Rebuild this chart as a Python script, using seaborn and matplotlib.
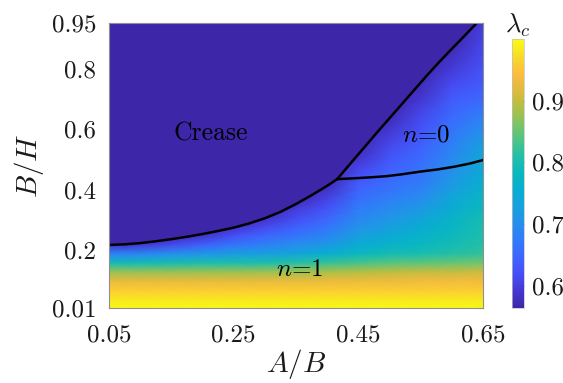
import numpy as np
import matplotlib
matplotlib.use("Agg")
import matplotlib.pyplot as plt
from matplotlib.colors import LinearSegmentedColormap
import seaborn as sns

# ---------------- data ----------------
x_grid = [0.05, 0.10, 0.15, 0.20, 0.25, 0.30, 0.35, 0.40, 0.45, 0.50, 0.55, 0.60, 0.65]
y_grid = [0.01, 0.04, 0.07, 0.10, 0.13, 0.16, 0.19, 0.22, 0.25, 0.28, 0.31, 0.34, 0.37,
          0.40, 0.43, 0.46, 0.50, 0.55, 0.60, 0.65, 0.70, 0.75, 0.80, 0.85, 0.90, 0.95]
LAM_MIN, LAM_MAX = 0.564, 1.0

# lambda_c columns (one list per x value, bottom to top); crease region = LAM_MIN
lam_x005 = [.995, .982, .958, .925, .875, .79, .68, .58] + [LAM_MIN] * 18
lam_x010 = [.995, .982, .958, .925, .875, .79, .685, .59] + [LAM_MIN] * 18
lam_x015 = [.995, .982, .958, .925, .875, .795, .70, .61] + [LAM_MIN] * 18
lam_x020 = [.995, .982, .958, .925, .876, .80, .71, .64, .585] + [LAM_MIN] * 17
lam_x025 = [.995, .982, .958, .925, .877, .80, .72, .665, .62, .58] + [LAM_MIN] * 16
lam_x030 = [.995, .982, .958, .925, .878, .80, .725, .68, .645, .61, .58] + [LAM_MIN] * 15
lam_x035 = [.995, .982, .958, .925, .88, .81, .735, .70, .665, .64, .615, .595, .57] + [LAM_MIN] * 13
lam_x040 = [.995, .982, .958, .927, .885, .82, .755, .715, .685, .665, .645, .625, .605,
            .585, .57] + [LAM_MIN] * 11
lam_x045 = [.995, .982, .958, .93, .89, .83, .78, .75, .725, .705, .69, .675, .66,
            .645, .63, .615, .59, .57] + [LAM_MIN] * 8
lam_x050 = [.995, .982, .958, .93, .895, .84, .795, .765, .745, .725, .71, .695, .68,
            .665, .655, .645, .63, .61, .59, .57] + [LAM_MIN] * 6
lam_x055 = [.995, .982, .958, .935, .90, .845, .80, .78, .765, .75, .735, .715, .70,
            .685, .67, .665, .655, .64, .625, .61, .59, .575] + [LAM_MIN] * 4
lam_x060 = [.995, .982, .958, .935, .90, .85, .81, .795, .785, .775, .765, .75, .74,
            .725, .715, .705, .695, .68, .665, .65, .635, .615, .595, .578] + [LAM_MIN] * 2
lam_x065 = [.995, .982, .958, .935, .905, .855, .82, .81, .805, .80, .795, .785, .775,
            .765, .755, .745, .745, .725, .70, .675, .65, .635, .625, .615, .605, .595]

# boundaries
crease_low_x = [0.05, 0.075, 0.10, 0.125, 0.15, 0.175, 0.20, 0.225, 0.25, 0.275,
                0.30, 0.325, 0.35, 0.375, 0.40, 0.416]
crease_low_y = [0.218, 0.220, 0.224, 0.230, 0.237, 0.245, 0.254, 0.264, 0.275, 0.289,
                0.306, 0.327, 0.353, 0.382, 0.413, 0.435]
crease_up_x = [0.416, 0.44, 0.46, 0.48, 0.50, 0.52, 0.54, 0.56, 0.58, 0.60, 0.62, 0.64]
crease_up_y = [0.435, 0.493, 0.541, 0.589, 0.636, 0.683, 0.730, 0.777, 0.822, 0.865,
               0.907, 0.950]
n01_x = [0.416, 0.444, 0.47, 0.496, 0.52, 0.55, 0.577, 0.604, 0.63, 0.65]
n01_y = [0.435, 0.438, 0.441, 0.445, 0.451, 0.460, 0.467, 0.476, 0.487, 0.498]

x_ticks = [0.05, 0.25, 0.45, 0.65]
x_ticklabels = ["0.05", "0.25", "0.45", "0.65"]
y_ticks = [0.01, 0.2, 0.4, 0.6, 0.8, 0.95]
y_ticklabels = ["0.01", "0.2", "0.4", "0.6", "0.8", "0.95"]
cb_ticks = [0.6, 0.7, 0.8, 0.9]
cb_ticklabels = ["0.6", "0.7", "0.8", "0.9"]

# parula-like colormap anchors
parula_pos = [0.0, 0.0625, 0.125, 0.1875, 0.25, 0.3125, 0.375, 0.4375, 0.5, 0.5625,
              0.625, 0.6875, 0.75, 0.8125, 0.875, 0.9375, 1.0]
parula_rgb = [(0.2422, 0.1504, 0.6603), (0.2682, 0.2161, 0.8247), (0.2770, 0.3058, 0.9671),
              (0.2440, 0.3960, 0.9990), (0.1900, 0.4800, 0.9800), (0.1500, 0.5600, 0.9300),
              (0.0900, 0.6300, 0.8700), (0.0300, 0.6800, 0.8200), (0.0400, 0.7200, 0.7500),
              (0.1300, 0.7500, 0.6600), (0.3000, 0.7700, 0.5300), (0.5000, 0.7700, 0.3900),
              (0.7000, 0.7500, 0.2600), (0.8800, 0.7300, 0.2400), (0.9900, 0.7400, 0.2400),
              (0.9700, 0.8600, 0.1600), (0.9769, 0.9839, 0.0805)]

# ---------------- style ----------------
sns.set_theme(style="white")
plt.rcParams["font.family"] = ["cmr10", "DejaVu Serif"]
plt.rcParams["mathtext.fontset"] = "cm"
plt.rcParams["axes.formatter.use_mathtext"] = True
plt.rcParams["text.color"] = "black"

TXT = "#1a1a1a"
parula = LinearSegmentedColormap.from_list("parula", list(zip(parula_pos, parula_rgb)))

fig = plt.figure(figsize=(5.63, 3.83), dpi=100)
ax = fig.add_axes([0.1936, 0.1958, 0.858 - 0.1936, 0.94 - 0.1958])
cax = fig.add_axes([0.9094, 0.1958, 0.0213, 0.898 - 0.1958])

lam = np.array([lam_x005, lam_x010, lam_x015, lam_x020, lam_x025, lam_x030, lam_x035,
                lam_x040, lam_x045, lam_x050, lam_x055, lam_x060, lam_x065]).T
X, Y = np.meshgrid(x_grid, y_grid)
mesh = ax.pcolormesh(X, Y, lam, shading="gouraud", cmap=parula,
                     vmin=LAM_MIN, vmax=LAM_MAX, rasterized=True)

# crease region (uniform)
poly_x = list(crease_low_x) + list(crease_up_x[1:]) + [x_grid[0]]
poly_y = list(crease_low_y) + list(crease_up_y[1:]) + [y_grid[-1]]
ax.fill(poly_x, poly_y, color=parula(0.0), lw=0, zorder=2)

for bx, by in [(crease_low_x, crease_low_y), (crease_up_x, crease_up_y), (n01_x, n01_y)]:
    sns.lineplot(x=bx, y=by, ax=ax, color="black", lw=1.8, sort=False,
                 estimator=None, zorder=3, solid_capstyle="round", solid_joinstyle="round")

ax.set_xlim(x_grid[0], x_grid[-1])
ax.set_ylim(y_grid[0], y_grid[-1])
ax.set_xticks(x_ticks)
ax.set_xticklabels(x_ticklabels)
ax.set_yticks(y_ticks)
ax.set_yticklabels(y_ticklabels)
ax.tick_params(direction="in", length=4, width=0.8, color="#808080",
               labelsize=18, top=True, right=True, labelcolor=TXT)
ax.tick_params(axis="x", pad=12)
ax.tick_params(axis="y", pad=9)
for s in ax.spines.values():
    s.set_color("#909090")
    s.set_linewidth(0.8)
    s.set_zorder(5)

ax.set_xlabel(r"$A/B$", fontsize=21, labelpad=0, color=TXT)
ax.set_ylabel(r"$B/H$", fontsize=21, labelpad=4, color=TXT)

ax.text(0.213, 0.584, "Crease", fontsize=18.5, ha="center", va="center", zorder=4, color="black")
ax.text(0.559, 0.58, r"$n$=0", fontsize=18, ha="center", va="center", zorder=4, color="black")
ax.text(0.356, 0.135, r"$n$=1", fontsize=18, ha="center", va="center", zorder=4, color="black")

cb = fig.colorbar(mesh, cax=cax)
cb.set_ticks(cb_ticks)
cb.set_ticklabels(cb_ticklabels)
cb.outline.set_edgecolor("#c0c0c0")
cb.outline.set_linewidth(0.5)
cax.tick_params(direction="in", length=3, width=0.8, color="#606060",
                labelsize=18, pad=6, labelcolor=TXT)
cax.set_title(r"$\lambda_c$", fontsize=19, pad=4, color=TXT)

fig.savefig("out.png", dpi=100)
